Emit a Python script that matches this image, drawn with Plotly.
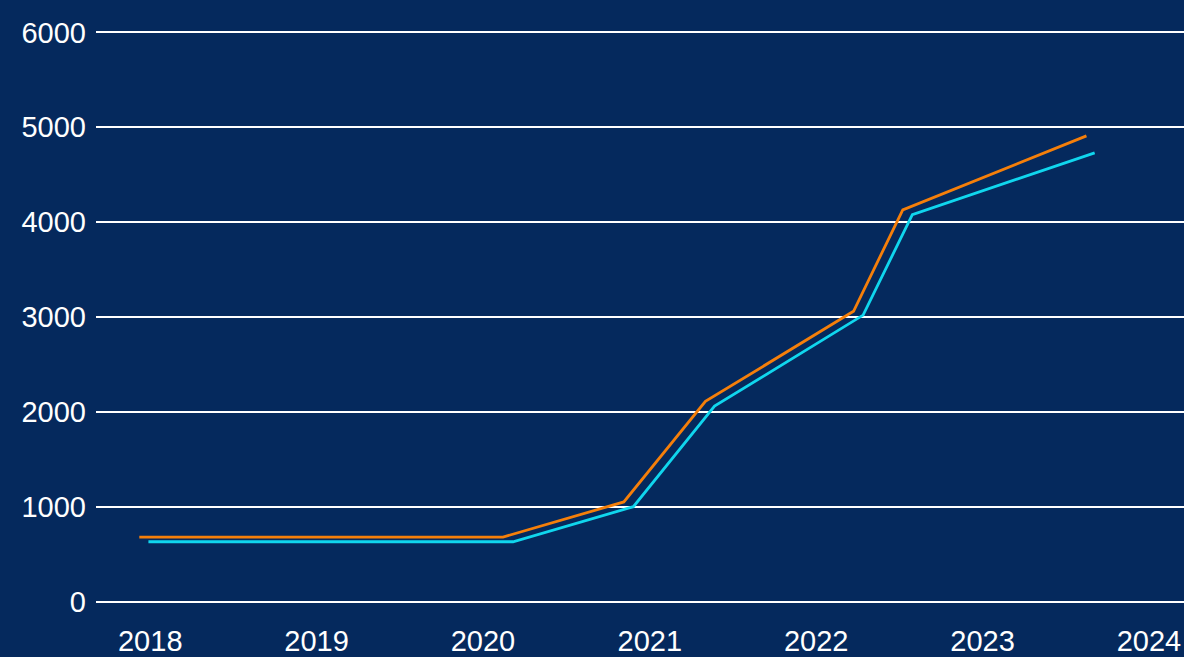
import plotly.graph_objects as go

# Data
orange_dates = ["2017-12-08", "2020-02-14", "2020-11-05", "2021-05-03", "2022-03-24", "2022-07-10", "2023-08-17"]
orange_values = [680, 680, 1050, 2110, 3060, 4130, 4910]

cyan_dates = ["2017-12-28", "2020-03-07", "2020-11-26", "2021-05-23", "2022-04-14", "2022-07-31", "2023-09-04"]
cyan_values = [630, 630, 1000, 2060, 3020, 4080, 4730]

y_ticks = [0, 1000, 2000, 3000, 4000, 5000, 6000]
x_ticks = ["2018-01-01", "2019-01-01", "2020-01-01", "2021-01-01", "2022-01-01", "2023-01-01", "2024-01-01"]
x_tick_labels = ["2018", "2019", "2020", "2021", "2022", "2023", "2024"]

BG = "#05295D"
ORANGE = "#F57F0A"
CYAN = "#10D6EE"

fig = go.Figure()
fig.add_trace(go.Scatter(x=orange_dates, y=orange_values, mode="lines",
                         line=dict(color=ORANGE, width=2.8), showlegend=False))
fig.add_trace(go.Scatter(x=cyan_dates, y=cyan_values, mode="lines",
                         line=dict(color=CYAN, width=2.8), showlegend=False))

fig.update_layout(
    width=1184, height=657,
    paper_bgcolor=BG, plot_bgcolor=BG,
    margin=dict(l=96, r=0, t=23, b=43),
    font=dict(family="Liberation Sans, Arial, sans-serif", size=29, color="white"),
    xaxis=dict(
        type="date",
        range=["2017-09-04", "2024-03-18"],
        tickvals=x_ticks, ticktext=x_tick_labels,
        showgrid=False, zeroline=False, showline=False, ticks="",
        ticklabelstandoff=10,
    ),
    yaxis=dict(
        range=[-100, 6100],
        tickvals=y_ticks,
        showgrid=True, gridcolor="white", gridwidth=2.2,
        zeroline=False, showline=False, ticks="",
        ticklabelstandoff=9,
    ),
)

fig.write_html(
    "out.html",
    config={"displayModeBar": False},
    post_script="document.body.style.margin='0';document.body.style.background='%s';"
                "document.body.style.overflow='hidden';" % BG,
)
